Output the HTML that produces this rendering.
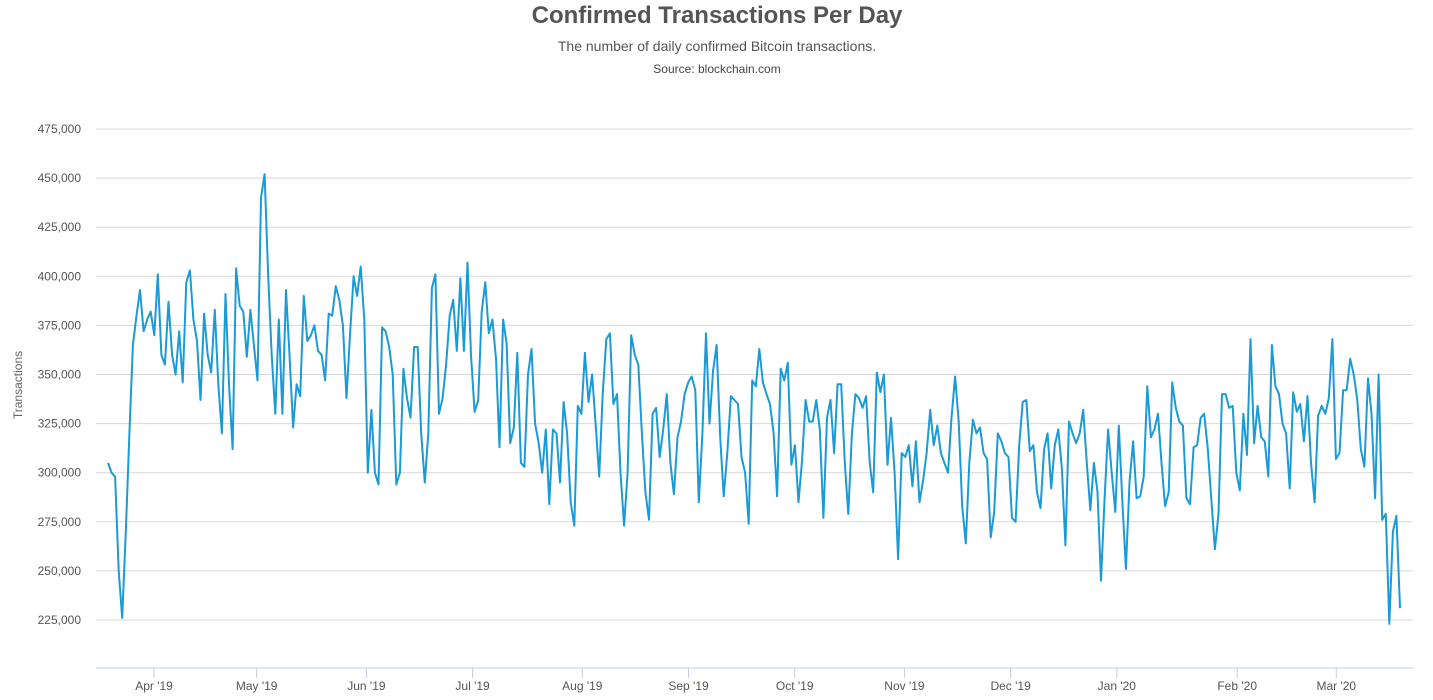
<!DOCTYPE html>
<html><head><meta charset="utf-8"><style>
body{margin:0;background:#fff;font-family:"Liberation Sans",sans-serif;}
svg text{font-family:"Liberation Sans",sans-serif;}
</style></head><body>
<svg id="chart" width="1433" height="695" xmlns="http://www.w3.org/2000/svg">
<text x="717" y="23" text-anchor="middle" font-size="24" font-weight="bold" fill="#555">Confirmed Transactions Per Day</text>
<text x="717" y="51" text-anchor="middle" font-size="14" fill="#555">The number of daily confirmed Bitcoin transactions.</text>
<text x="717" y="73" text-anchor="middle" font-size="12" fill="#444">Source: blockchain.com</text>
<text transform="translate(22,385) rotate(-90)" text-anchor="middle" font-size="12" fill="#666">Transactions</text>
<g id="grid"></g><g id="xaxis"></g><g id="series"></g>
</svg>
<script>
const yTicks=[225000,250000,275000,300000,325000,350000,375000,400000,425000,450000,475000];
const monthLabels=["Apr '19","May '19","Jun '19","Jul '19","Aug '19","Sep '19","Oct '19","Nov '19","Dec '19","Jan '20","Feb '20","Mar '20"];
const monthDayIndex=[13,42,73,103,134,164,194,225,255,285,319,347];
const values=[305,300,298,250,226,270,320,365,380,393,372,378,382,370,401,360,355,387,360,350,372,346,397,403,378,367,337,381,360,351,383,345,320,391,345,312,404,385,382,359,383,365,347,440,452,400,360,330,378,330,393,360,323,345,339,390,367,370,375,362,360,347,381,380,395,388,375,338,370,400,390,405,378,300,332,300,294,374,372,364,350,294,300,353,338,328,364,364,320,295,320,394,401,330,338,355,380,388,362,399,362,407,360,331,337,382,397,371,378,358,313,378,366,315,323,361,305,303,350,363,325,315,300,322,284,322,320,295,336,320,285,273,334,330,361,336,350,325,298,340,368,371,335,340,300,273,300,370,360,355,320,290,276,330,333,308,322,340,305,289,318,326,340,346,349,342,285,320,371,325,352,365,318,288,310,339,337,335,308,300,274,347,344,363,346,340,335,320,288,353,347,356,304,314,285,306,337,326,326,337,322,277,328,337,310,345,345,305,279,320,340,338,333,339,305,290,351,341,350,304,328,300,256,310,308,314,293,316,285,296,310,332,314,324,310,305,300,328,349,326,283,264,305,327,320,323,310,307,267,280,320,316,310,308,277,275,314,336,337,311,314,290,282,312,320,292,314,322,302,263,326,320,315,320,332,305,281,305,290,245,287,322,300,280,324,285,251,295,316,287,288,298,344,318,322,330,305,283,290,346,333,326,324,287,284,313,314,328,330,312,286,261,279,340,340,333,334,300,291,330,309,368,315,334,318,316,298,365,344,340,325,320,292,341,331,335,316,339,305,285,329,334,330,338,368,307,310,342,342,358,350,337,312,303,348,330,287,350,276,279,223,270,278,231];
const NS="http://www.w3.org/2000/svg";
const X0=96,X1=1413,Y225=620,Y475=129;
const yScale=v=>Y225+(v-225000)*(Y475-Y225)/250000;
const xScale=i=>108+i*(1400-108)/(values.length-1);
const grid=document.getElementById('grid');
yTicks.forEach(t=>{
  const l=document.createElementNS(NS,'line');
  
  
  l.setAttribute('x1',X0);l.setAttribute('x2',X1);
  l.setAttribute('y1',yScale(t));l.setAttribute('y2',yScale(t));
  l.setAttribute('stroke','#d8d8d8');
  grid.appendChild(l);
  const tx=document.createElementNS(NS,'text');
  
  
  tx.setAttribute('x',81);tx.setAttribute('y',yScale(t)+4);
  tx.setAttribute('text-anchor','end');tx.setAttribute('font-size','12');tx.setAttribute('fill','#555');
  tx.textContent=t.toLocaleString('en-US');
  grid.appendChild(tx);
});
const xa=document.getElementById('xaxis');
const ax=document.createElementNS(NS,'line');


ax.setAttribute('x1',X0);ax.setAttribute('x2',X1);ax.setAttribute('y1',668);ax.setAttribute('y2',668);
ax.setAttribute('stroke','#c0d0e0');
xa.appendChild(ax);
const dayX=d=>108+d*(1400-108)/365;
monthLabels.forEach((m,k)=>{
  const x=dayX(monthDayIndex[k]);
  const tk=document.createElementNS(NS,'line');
  
  
  tk.setAttribute('x1',x);tk.setAttribute('x2',x);tk.setAttribute('y1',668);tk.setAttribute('y2',678);
  tk.setAttribute('stroke','#c0d0e0');
  xa.appendChild(tk);
  const tx=document.createElementNS(NS,'text');
  
  
  tx.setAttribute('x',x);tx.setAttribute('y',690);
  tx.setAttribute('text-anchor','middle');tx.setAttribute('font-size','12');tx.setAttribute('fill','#555');
  tx.textContent=m;
  xa.appendChild(tx);
});
const p=document.createElementNS(NS,'path');


p.setAttribute('d',values.map((v,i)=>(i?'L':'M')+xScale(i).toFixed(1)+' '+yScale(v*1000).toFixed(1)).join(' '));
p.setAttribute('fill','none');p.setAttribute('stroke','#1a9bd7');p.setAttribute('stroke-width','2');p.setAttribute('stroke-linejoin','round');
document.getElementById('series').appendChild(p);
</script>
</body></html>
